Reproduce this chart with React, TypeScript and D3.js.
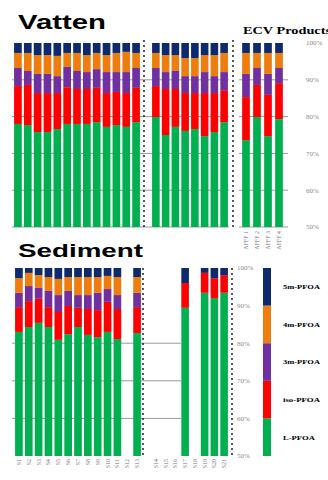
import React from "react";
import * as d3 from "d3";

const isomers = ["L-PFOA", "iso-PFOA", "3m-PFOA", "4m-PFOA", "5m-PFOA"];
const isoColors = ["#00b050", "#ff0000", "#7030a0", "#ed7d0f", "#0d2a6e"];
const ticks = [50, 60, 70, 80, 90, 100];

// Vatten group 1 (13 samples)
const vat1Labels = ["V1","V2","V3","V4","V5","V6","V7","V8","V9","V10","V11","V12","V13"];
const vat1L = [78.0, 77.7, 75.8, 75.8, 76.6, 78.0, 78.0, 78.0, 78.5, 77.2, 77.7, 77.2, 78.5];
const vat1Iso = [10.3, 10.9, 10.6, 10.6, 9.8, 10.0, 9.5, 9.5, 9.3, 9.2, 9.0, 9.2, 9.3];
const vat1M3 = [4.9, 3.8, 5.2, 5.2, 4.6, 5.5, 4.9, 4.6, 5.1, 5.7, 5.4, 5.7, 5.4];
const vat1M4 = [4.1, 4.9, 5.1, 5.1, 5.5, 3.8, 4.9, 4.6, 4.4, 4.6, 5.2, 5.5, 4.1];
const vat1M5 = [2.7, 2.7, 3.3, 3.3, 3.5, 2.7, 2.7, 3.3, 2.7, 3.3, 2.7, 2.4, 2.7];

// Vatten group 2 (8 samples)
const vat2Labels = ["V14","V15","V16","V17","V18","V19","V20","V21"];
const vat2L = [79.9, 75.0, 77.2, 76.1, 76.6, 74.7, 75.8, 78.5];
const vat2Iso = [8.4, 12.5, 10.3, 10.3, 9.8, 11.7, 10.6, 8.5];
const vat2M3 = [4.9, 4.6, 4.9, 4.6, 4.6, 5.7, 4.6, 5.1];
const vat2M4 = [4.1, 4.6, 4.3, 4.9, 4.9, 4.6, 5.7, 5.2];
const vat2M5 = [2.7, 3.3, 3.3, 4.1, 4.1, 3.3, 3.3, 2.7];

// ECV products (AFFF)
const ecvLabels = ["AFFF 1", "AFFF 2", "AFFF 3", "AFFF 4"];
const ecvL = [73.6, 79.9, 74.7, 79.3];
const ecvIso = [11.7, 8.7, 11.2, 9.8];
const ecvM3 = [6.3, 4.6, 5.7, 4.1];
const ecvM4 = [5.7, 4.1, 5.7, 4.1];
const ecvM5 = [2.7, 2.7, 2.7, 2.7];

// Sediment group 1 (13 slots)
const sed1Labels = ["S1","S2","S3","S4","S5","S6","S7","S8","S9","S10","S11","S12","S13"];
const sed1L = [83.0, 84.3, 85.4, 84.3, 80.9, 82.4, 84.3, 82.2, 81.6, 83.0, 81.1, null, 82.7];
const sed1Iso = [6.6, 6.9, 6.4, 5.3, 7.4, 7.5, 5.1, 6.9, 7.2, 8.0, 8.0, null, 6.9];
const sed1M3 = [3.8, 4.0, 2.9, 4.3, 4.5, 4.0, 3.4, 3.7, 4.6, 3.4, 3.7, null, 3.8];
const sed1M4 = [3.9, 3.5, 3.4, 3.7, 4.3, 3.7, 4.8, 4.8, 4.2, 3.5, 4.8, null, 4.2];
const sed1M5 = [2.7, 1.3, 1.9, 2.4, 2.9, 2.4, 2.4, 2.4, 2.4, 2.1, 2.4, null, 2.4];

// Sediment group 2 (8 slots)
const sed2Labels = ["S14","S15","S16","S17","S18","S19","S20","S21"];
const sed2L = [null, null, null, 89.4, null, 93.4, 92.0, 93.4];
const sed2Iso = [null, null, null, 6.6, null, 5.3, 5.3, 4.7];
const sed2M3 = [null, null, null, 0, null, 0, 0, 0];
const sed2M4 = [null, null, null, 0, null, 0, 0, 0];
const sed2M5 = [null, null, null, 4.0, null, 1.3, 2.7, 1.9];

type Row = { label: string; vals: (number | null)[] };

function rows(labels: string[], series: (number | null)[][]): Row[] {
  return labels.map((l, i) => ({ label: l, vals: series.map((s) => s[i]) }));
}

function Bars({ data, x, y }: { data: Row[]; x: d3.ScaleBand<string>; y: d3.ScaleLinear<number, number> }) {
  const present = data.filter((d) => d.vals[0] != null);
  const table = present.map((d) => {
    const o: any = { label: d.label };
    isomers.forEach((k, i) => (o[k] = d.vals[i] as number));
    return o;
  });
  const stacked = d3.stack<any>().keys(isomers)(table);
  const [lo] = y.domain();
  return (
    <g>
      {stacked.map((layer, li) =>
        layer.map((seg, si) => {
          const y0 = Math.max(lo, seg[0]);
          const y1 = seg[1];
          if (y1 <= y0) return null;
          return (
            <rect
              key={`${li}-${si}`}
              x={x(seg.data.label)}
              width={x.bandwidth()}
              y={y(y1)}
              height={y(y0) - y(y1)}
              fill={isoColors[li]}
            />
          );
        })
      )}
    </g>
  );
}

export default function App() {
  const yTop = d3.scaleLinear().domain([50, 100]).range([227, 43]);
  const yBot = d3.scaleLinear().domain([50, 100]).range([456, 268]);

  const xV1 = d3.scaleBand().domain(vat1Labels).range([13, 141]).paddingInner(0.22).paddingOuter(0.11);
  const xV2 = d3.scaleBand().domain(vat2Labels).range([151, 229]).paddingInner(0.22).paddingOuter(0.11);
  const xE = d3.scaleBand().domain(ecvLabels).range([240.5, 284.5]).paddingInner(0.3).paddingOuter(0.15);
  const xS1 = d3.scaleBand().domain(sed1Labels).range([14, 142]).paddingInner(0.22).paddingOuter(0.11);
  const xS2 = d3.scaleBand().domain(sed2Labels).range([151, 229]).paddingInner(0.22).paddingOuter(0.11);

  const vat1 = rows(vat1Labels, [vat1L, vat1Iso, vat1M3, vat1M4, vat1M5]);
  const vat2 = rows(vat2Labels, [vat2L, vat2Iso, vat2M3, vat2M4, vat2M5]);
  const ecv = rows(ecvLabels, [ecvL, ecvIso, ecvM3, ecvM4, ecvM5]);
  const sed1 = rows(sed1Labels, [sed1L, sed1Iso, sed1M3, sed1M4, sed1M5]);
  const sed2 = rows(sed2Labels, [sed2L, sed2Iso, sed2M3, sed2M4, sed2M5]);

  const legendY = d3.scaleBand().domain([...isomers].reverse()).range([268, 456]).paddingInner(0);

  const grid = "#9a9a9a";
  const axisFont = "'Liberation Serif', 'DejaVu Serif', serif";

  return (
    <svg width={328} height={480} style={{ position: "absolute", left: 0, top: 0, background: "#fff" }}>
      {/* Titles */}
      <text x={18} y={29} fontFamily="'Liberation Sans', Arial, sans-serif" fontWeight="bold" fontSize={19.5}
        textLength={88} lengthAdjust="spacingAndGlyphs" fill="#000">Vatten</text>
      <text x={18} y={257} fontFamily="'Liberation Sans', Arial, sans-serif" fontWeight="bold" fontSize={18}
        textLength={125} lengthAdjust="spacingAndGlyphs" fill="#000">Sediment</text>
      <text x={243} y={34} fontFamily={axisFont} fontWeight="bold" fontSize={10}
        textLength={88} lengthAdjust="spacingAndGlyphs" fill="#000">ECV Products</text>

      {/* Top gridlines */}
      {ticks.filter((t) => t < 100).map((t) => (
        <g key={`tg${t}`}>
          <line x1={12} x2={229} y1={yTop(t)} y2={yTop(t)} stroke={grid} strokeWidth={1} />
          <line x1={239} x2={288} y1={yTop(t)} y2={yTop(t)} stroke={grid} strokeWidth={1} />
        </g>
      ))}
      {/* Bottom gridlines */}
      {ticks.filter((t) => t > 50 && t < 90).map((t) => (
        <line key={`bg${t}`} x1={12} x2={181} y1={yBot(t)} y2={yBot(t)} stroke={grid} strokeWidth={1} />
      ))}

      <Bars data={vat1} x={xV1} y={yTop} />
      <Bars data={vat2} x={xV2} y={yTop} />
      <Bars data={ecv} x={xE} y={yTop} />
      <Bars data={sed1} x={xS1} y={yBot} />
      <Bars data={sed2} x={xS2} y={yBot} />

      {/* Dashed separators */}
      <line x1={144} x2={144} y1={40} y2={227} stroke="#111" strokeWidth={1.4} strokeDasharray="2,3" />
      <line x1={233} x2={233} y1={40} y2={227} stroke="#111" strokeWidth={1.4} strokeDasharray="2,3" />
      <line x1={143} x2={143} y1={268} y2={458} stroke="#111" strokeWidth={1.4} strokeDasharray="2,3" />
      <line x1={232} x2={232} y1={268} y2={458} stroke="#111" strokeWidth={1.4} strokeDasharray="2,3" />

      {/* Top right axis */}
      {ticks.map((t) => (
        <text key={`ta${t}`} x={306} y={yTop(t)} dy="0.35em" fontFamily={axisFont} fontSize={7} fill="#8a8a8a">{t}%</text>
      ))}
      {/* Bottom axis */}
      {ticks.map((t) => (
        <text key={`ba${t}`} x={237} y={yBot(t)} dy="0.35em" fontFamily={axisFont} fontSize={7} fill="#8a8a8a">{t}%</text>
      ))}

      {/* ECV labels */}
      {ecvLabels.map((l) => (
        <text key={l} transform={`translate(${(xE(l) as number) + xE.bandwidth() / 2 + 2},231) rotate(-90)`}
          textAnchor="end" fontFamily={axisFont} fontSize={6} fill="#777">{l}</text>
      ))}
      {/* Sediment labels */}
      {sed1Labels.map((l) => (
        <text key={l} transform={`translate(${(xS1(l) as number) + xS1.bandwidth() / 2 + 2},459) rotate(-90)`}
          textAnchor="end" fontFamily={axisFont} fontSize={6} fill="#777">{l}</text>
      ))}
      {sed2Labels.map((l) => (
        <text key={l} transform={`translate(${(xS2(l) as number) + xS2.bandwidth() / 2 + 2},459) rotate(-90)`}
          textAnchor="end" fontFamily={axisFont} fontSize={6} fill="#777">{l}</text>
      ))}

      {/* Legend strip */}
      {isomers.map((k, i) => (
        <g key={k}>
          <rect x={263} width={8} y={legendY(k)} height={legendY.bandwidth()} fill={isoColors[i]} />
          <text x={283} y={(legendY(k) as number) + legendY.bandwidth() / 2} dy="0.35em" fontFamily={axisFont}
            fontWeight="bold" fontSize={7} textLength={k.length > 7 ? 37 : k.length > 6 ? 37 : 32}
            lengthAdjust="spacingAndGlyphs" fill="#000">{k}</text>
        </g>
      ))}
    </svg>
  );
}
